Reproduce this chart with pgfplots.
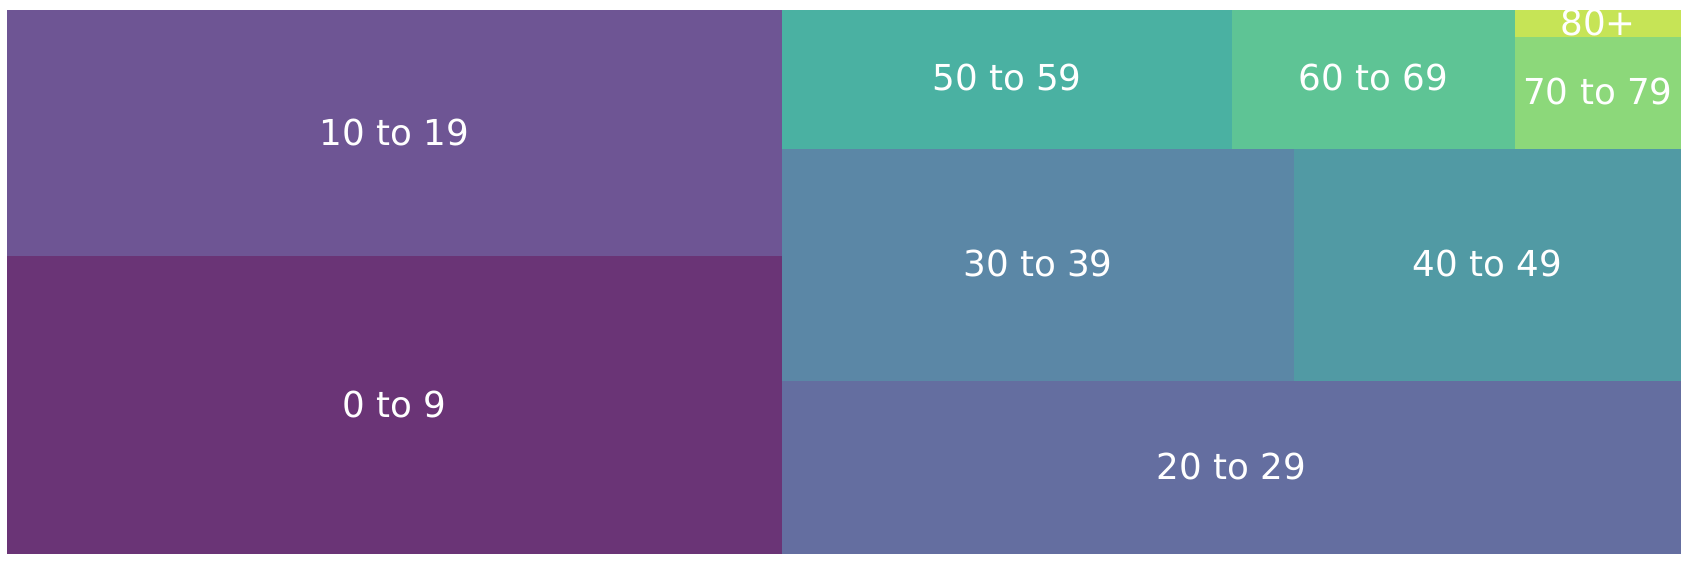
\documentclass[border=0pt]{standalone}
\usepackage{fontspec}
\setmainfont{DejaVu Sans}
\usepackage{pgfplots}
\pgfplotsset{compat=1.18}
\definecolor{c0}{RGB}{106,52,118}
\definecolor{c1}{RGB}{110,85,148}
\definecolor{c2}{RGB}{100,110,160}
\definecolor{c3}{RGB}{91,135,166}
\definecolor{c4}{RGB}{81,154,164}
\definecolor{c5}{RGB}{74,177,162}
\definecolor{c6}{RGB}{94,196,149}
\definecolor{c7}{RGB}{140,216,122}
\definecolor{c8}{RGB}{198,228,86}
\begin{document}
\begin{tikzpicture}
\useasboundingbox (-3.5pt,-3.5pt) rectangle (840.5pt,277pt);
\begin{axis}[
  at={(0,0)}, anchor=south west,
  scale only axis, width=837pt, height=272pt,
  xmin=0, xmax=100, ymin=0, ymax=100,
  hide axis, clip=false,
]
\addplot[fill=c0, draw=none] coordinates {(0,0) (46.30,0) (46.30,54.78) (0,54.78)} -- cycle;
\addplot[fill=c1, draw=none] coordinates {(0,54.78) (46.30,54.78) (46.30,100) (0,100)} -- cycle;
\addplot[fill=c2, draw=none] coordinates {(46.30,0) (100,0) (100,31.80) (46.30,31.80)} -- cycle;
\addplot[fill=c3, draw=none] coordinates {(46.30,31.80) (76.88,31.80) (76.88,74.45) (46.30,74.45)} -- cycle;
\addplot[fill=c4, draw=none] coordinates {(76.88,31.80) (100,31.80) (100,74.45) (76.88,74.45)} -- cycle;
\addplot[fill=c5, draw=none] coordinates {(46.30,74.45) (73.18,74.45) (73.18,100) (46.30,100)} -- cycle;
\addplot[fill=c6, draw=none] coordinates {(73.18,74.45) (90.08,74.45) (90.08,100) (73.18,100)} -- cycle;
\addplot[fill=c7, draw=none] coordinates {(90.08,74.45) (100,74.45) (100,95.09) (90.08,95.09)} -- cycle;
\addplot[fill=c8, draw=none] coordinates {(90.08,95.09) (100,95.09) (100,100) (90.08,100)} -- cycle;
\addplot[only marks, mark=none, nodes near coords, point meta=explicit symbolic,
  every node near coord/.append style={anchor=center, text=white, font=\fontsize{17.85}{20}\selectfont, inner sep=0pt}]
  table[col sep=comma, row sep=\\, x=x, y=y, meta=label] {
x,y,label\\
23.15,27.39,0 to 9\\
23.15,77.39,10 to 19\\
73.15,16.10,20 to 29\\
61.59,53.33,30 to 39\\
88.44,53.33,40 to 49\\
59.74,87.53,50 to 59\\
81.63,87.53,60 to 69\\
95.04,84.97,70 to 79\\
95.04,97.75,80+\\
};
\end{axis}
\end{tikzpicture}
\end{document}
